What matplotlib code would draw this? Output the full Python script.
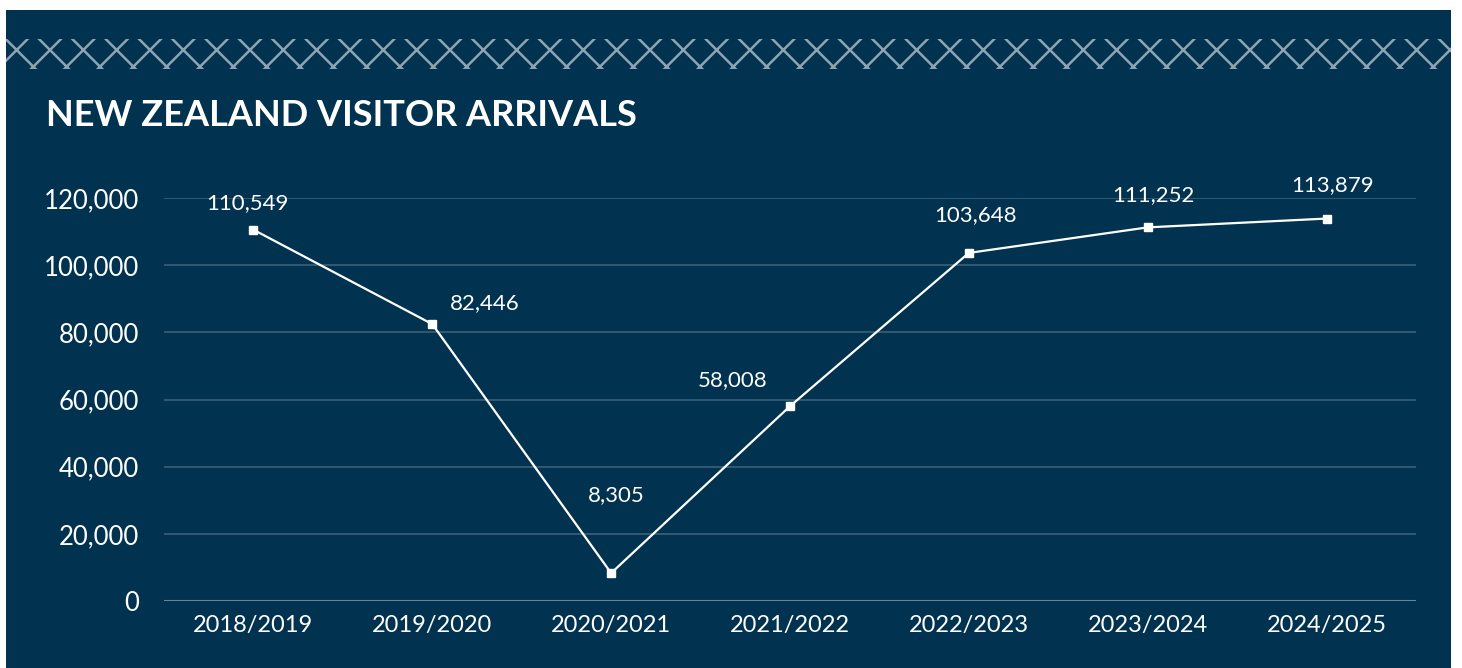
import matplotlib.pyplot as plt
from matplotlib.patches import Rectangle

# data
years = ["2018/2019", "2019/2020", "2020/2021", "2021/2022", "2022/2023", "2023/2024", "2024/2025"]
arrivals = [110549, 82446, 8305, 58008, 103648, 111252, 113879]
yticks = [0, 20000, 40000, 60000, 80000, 100000, 120000]

# label offsets in points (dx, dy)
offsets = [(-4, 19), (38, 15), (4, 56), (-41, 19), (5, 27), (4, 23), (4, 24)]

navy = "#01324f"
plt.rcParams['font.family'] = ['Lato', 'DejaVu Sans']
plt.rcParams['hatch.linewidth'] = 1.8

fig = plt.figure(figsize=(14.62, 6.68), dpi=100)
fig.patch.set_facecolor("white")

# navy panel
fig.patches.append(Rectangle((6/1462, 0), (1451-6)/1462, (668-10)/668,
                             transform=fig.transFigure, facecolor=navy,
                             edgecolor="none", zorder=-10))
# patterned band
fig.patches.append(Rectangle((6/1462, (668-69)/668), (1451-6)/1462, 30/668,
                             transform=fig.transFigure, facecolor=navy,
                             edgecolor="#8ea4b3", hatch="x", linewidth=0,
                             zorder=-9))

ax = fig.add_axes([164/1462, 67/668, (1416-164)/1462, (601-198)/668])
ax.set_facecolor("none")
x = list(range(len(years)))
ax.plot(x, arrivals, color="white", linewidth=1.6, marker="s", markersize=6,
        markerfacecolor="white", markeredgecolor="white", clip_on=False, zorder=3)

for i, v in enumerate(arrivals):
    ax.annotate(f"{v:,}", (i, v), xytext=offsets[i], textcoords="offset points",
                ha="center", va="center", color="white", fontsize=16,
                fontweight="normal")

ax.set_xlim(-0.5, len(years) - 0.5)
ax.set_ylim(0, 120000)
ax.set_yticks(yticks)
ax.set_yticklabels([f"{t:,}" for t in yticks])
ax.set_xticks(x)
ax.set_xticklabels(years)
ax.tick_params(length=0, colors="white")
ax.tick_params(axis="y", pad=18, labelsize=18.5)
ax.tick_params(axis="x", pad=10, labelsize=17)
for s in ax.spines.values():
    s.set_visible(False)
ax.grid(axis="y", color="#3d6079", linewidth=1.2)
ax.axhline(0, color="#6a8699", linewidth=1.5, zorder=2)

fig.text(46/1462, (668-115)/668, "NEW ZEALAND VISITOR ARRIVALS", color="white",
         fontsize=26, fontweight="bold", va="center", ha="left")

fig.savefig("out.png", dpi=100, facecolor=fig.get_facecolor())
